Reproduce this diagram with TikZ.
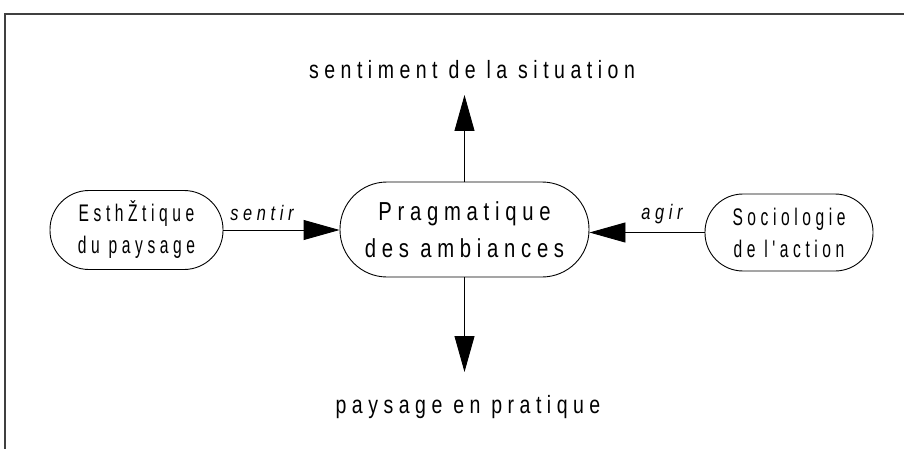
\documentclass[tikz,border=0pt]{standalone}
\usepackage{fontspec}
\newfontfamily\narrowfont{Liberation Sans}[FakeStretch=0.78,LetterSpace=22]
\newfontfamily\slimfont{Liberation Sans}[FakeStretch=0.65,LetterSpace=19]
\newfontfamily\narrowitfont{Liberation Sans Italic}[FakeStretch=0.78,LetterSpace=22]
\usetikzlibrary{arrows.meta}

\begin{document}
\begin{tikzpicture}[x=1pt,y=-1pt,
  concept/.style={draw, line width=0.9pt, align=center, inner sep=0pt},
  bigtext/.style={font=\narrowfont\fontsize{26}{37}\selectfont},
  sidetext/.style={font=\slimfont\fontsize{24}{32}\selectfont},
  midtext/.style={font=\narrowfont\fontsize{25}{32}\selectfont},
  lbl/.style={font=\narrowitfont\fontsize{21}{25}\selectfont, inner sep=0pt},
  flow/.style={line width=0.9pt, -{Triangle[length=36pt,width=20pt]}},
  frame/.style={line width=1.3pt, black!75}]
\useasboundingbox (0,0) rectangle (904,449);

% page frame (top and left rule)
\draw[frame] (5,449) -- (5,14) -- (904,14);

% concepts
\node[concept, sidetext, minimum width=173pt, minimum height=79pt, rounded corners=39pt]
  (esth) at (136.5,230) {EsthŽtique\\du paysage};
\node[concept, bigtext, minimum width=249pt, minimum height=95pt, rounded corners=47pt]
  (prag) at (464.5,229.5) {Pragmatique\\des ambiances};
\node[concept, sidetext, minimum width=168pt, minimum height=77pt, rounded corners=38pt]
  (socio) at (789,232.5) {Sociologie\\de l'action};

% outcomes
\node[midtext, inner sep=0pt] (sent) at (472,70) {sentiment de la situation};
\node[midtext, inner sep=0pt] (pays) at (468,407) {paysage en pratique};
\coordinate (uptip) at (464.5,95);
\coordinate (downtip) at (464.5,372);

% connectors
\draw[flow] (prag.north) -- (uptip);
\draw[flow] (prag.south) -- (downtip);
\draw[flow] (esth.east) -- (esth.east -| prag.west);
\draw[flow] (socio.west) -- (socio.west -| prag.east);

% connector labels
\node[lbl] (lsentir) at (262,213) {sentir};
\node[lbl] (lagir) at (662,214) {agir};
\end{tikzpicture}
\end{document}
